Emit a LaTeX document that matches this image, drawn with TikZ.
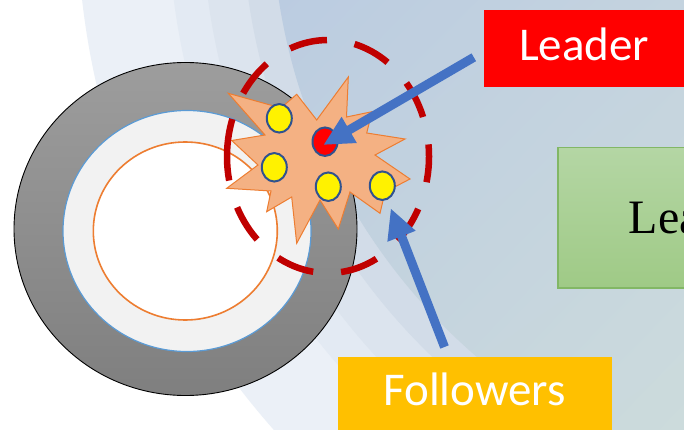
\documentclass[tikz,border=0pt]{standalone}
\usepackage{fontspec}
\setmainfont{Liberation Serif}
\newfontfamily\calib{Carlito}
\usetikzlibrary{arrows.meta,shapes.geometric,shadings}
\definecolor{bandA}{HTML}{EBF0F7}
\definecolor{bandB}{HTML}{E3EAF3}
\definecolor{bandC}{HTML}{DCE4EE}
\definecolor{bandD}{HTML}{D2DCE8}
\definecolor{bgUL}{HTML}{BBCCE1}
\definecolor{bgUR}{HTML}{C4D3DF}
\definecolor{bgLL}{HTML}{C4D3DE}
\definecolor{bgLR}{HTML}{CCDBDC}
\definecolor{ringtop}{HTML}{9D9D9D}
\definecolor{ringbot}{HTML}{7F7F7F}
\definecolor{discfill}{HTML}{F2F2F2}
\definecolor{discline}{HTML}{5B9BD5}
\definecolor{orangeline}{HTML}{ED7D31}
\definecolor{burstfill}{HTML}{F4B183}
\definecolor{dotline}{HTML}{2F528F}
\definecolor{dashred}{HTML}{C00000}
\definecolor{arrowblue}{HTML}{4472C4}
\definecolor{followgold}{HTML}{FFC000}
\definecolor{greentop}{HTML}{B4D6A4}
\definecolor{greenbot}{HTML}{9FCA86}
\definecolor{greenline}{HTML}{82B765}
\begin{document}
\begin{tikzpicture}[x=1pt,y=-1pt,
  dotnode/.style={ellipse, draw=dotline, line width=2pt, minimum width=25pt, minimum height=28.5pt, inner sep=0pt, fill=yellow},
  bluearrow/.style={draw=arrowblue, line width=9pt, -{Triangle[length=30pt,width=28pt]}},
  boxfont/.style={font=\calib\fontsize{47}{47}\selectfont, text=white},
  labelbox/.style={anchor=north west, inner sep=0pt, minimum height=77.3pt, boxfont}]
\fill[white] (0,0) rectangle (684,430);
\useasboundingbox (0,0) rectangle (684,430);
% background arcs
\begin{scope}
\clip (0,0) rectangle (684,430);
\fill[bandA] (862,-90) circle[radius=785];
\fill[bandB] (862,-90) circle[radius=694];
\fill[bandC] (862,-90) circle[radius=660];
\fill[bandD] (862,-90) circle[radius=620];
\clip (862,-90) circle[radius=590];
\shade[upper left=bgUL, upper right=bgUR, lower left=bgLL, lower right=bgLR] (270,0) rectangle (684,430);
\end{scope}
% ring
\shadedraw[top color=ringtop, bottom color=ringbot, draw=black, line width=0.9pt] (185.5,229) ellipse[x radius=171.5, y radius=166.5];
\filldraw[fill=discfill, draw=discline, line width=1.2pt] (187,231) ellipse[x radius=124, y radius=120.5];
\filldraw[fill=white, draw=orangeline, line width=1.6pt] (185.3,231) ellipse[x radius=92, y radius=89];
% starburst
\filldraw[fill=burstfill, draw=orangeline, line width=1pt, line join=miter]
  (228.3,93.3) -- (281,108) -- (296.7,94.3) -- (316.7,120) -- (348.3,77) -- (346.5,117)
  -- (372,111.7) -- (366.7,133) -- (405,139) -- (375,155) -- (410,179) -- (385,192)
  -- (380,213.3) -- (350,192) -- (338.3,229) -- (320,200) -- (296.7,243.3) -- (291.7,197)
  -- (266.7,211.7) -- (271,191) -- (226.7,188.3) -- (258,165) -- (231.7,140.5) -- (265,135) -- cycle;
% dots
\node[dotnode] (y1) at (279.3,118.3) {};
\node[dotnode, fill=red] (leaderdot) at (325,141.7) {};
\node[dotnode] (y2) at (274.3,167.3) {};
\node[dotnode] (y3) at (328.3,186.7) {};
\node[dotnode] (y4) at (382.3,185.7) {};
% dashed group boundary
\coordinate (dc) at (328,156.5);
\draw[dashred, line width=6.5pt, dash pattern=on 38pt off 28pt] (dc) ++(-101,0) arc[start angle=180, end angle=540, x radius=101, y radius=116.5];
% boxes
\node[labelbox, fill=red, minimum width=200pt, text height=30pt, text depth=7.3pt] (leaderbox) at (484,10) {Leader};
\node[labelbox, fill=followgold, minimum width=274.4pt, text height=30pt, text depth=9.3pt] (followbox) at (337.3,356.7) {Followers};
\node[anchor=north west, inner sep=0pt, minimum width=200pt, minimum height=140pt, top color=greentop, bottom color=greenbot, draw=greenline, line width=1.2pt] (greenbox) at (557.3,147.3) {};
\node[anchor=base west, inner sep=0pt, font=\fontsize{48}{48}\selectfont] (greentext) at (628.7,233.3) {Lea};
% arrows
\coordinate (ltail) at (473.8,57.3);
\coordinate (ltip) at (323.3,145);
\coordinate (ftail) at (444.5,347);
\coordinate (ftip) at (390.7,208.3);
\draw[bluearrow] (ltail) -- (ltip);
\draw[bluearrow] (ftail) -- (ftip);
\end{tikzpicture}
\end{document}
